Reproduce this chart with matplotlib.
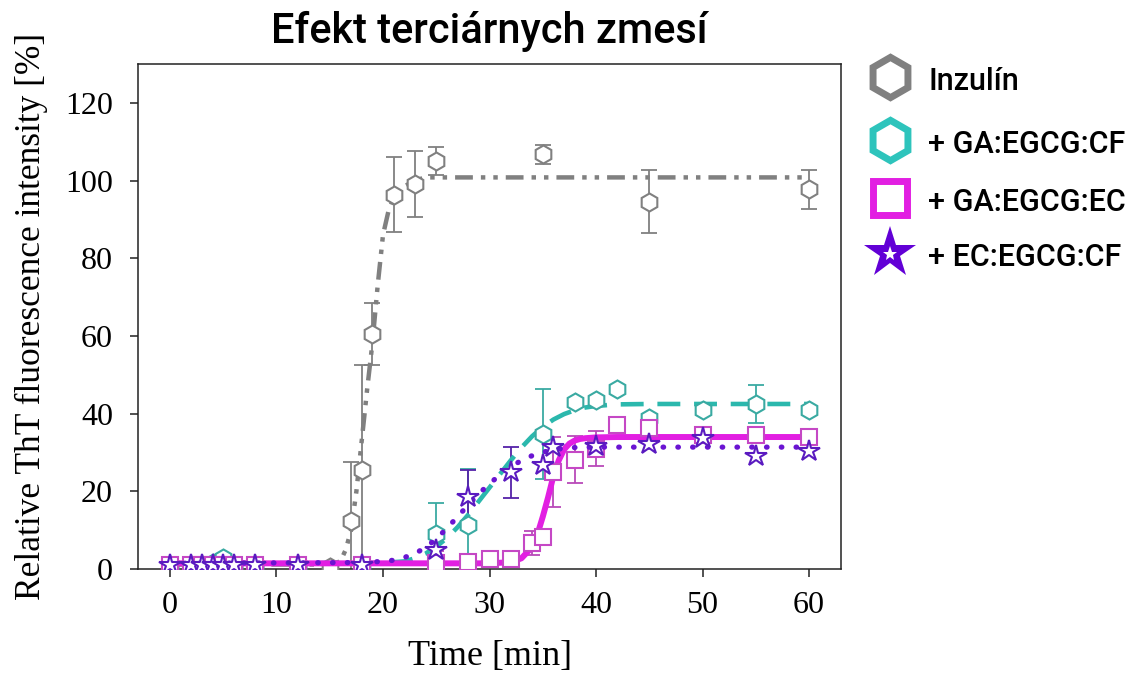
import numpy as np
import matplotlib.pyplot as plt
from matplotlib.lines import Line2D

# --- measured points (time in min, relative ThT intensity in %) ---
ins_t = [0, 2, 3, 4, 5, 6, 8, 12, 15, 17, 18, 19, 21, 23, 25, 35, 45, 60]
ins_v = [1, 1, 1, 1, 1, 1, 1, 1, 0.5, 12.5, 25.5, 60.5, 96.4, 99, 104.9, 106.7, 94.6, 97.7]
ins_e = [0, 0, 0, 0, 0, 0, 0, 0, 0, 15, 27, 8, 9.6, 8.5, 3.6, 2.5, 8, 5]

cf_t = [0, 2, 3, 4, 5, 6, 8, 12, 18, 25, 28, 35, 38, 40, 42, 45, 50, 55, 60]
cf_v = [1, 1, 1, 1.5, 3, 1, 1, 1, 1, 9, 11.3, 34.8, 42.9, 43.6, 46.4, 39, 41, 42.5, 41]
cf_e = [0, 0, 0, 0, 0, 0, 0, 0, 0, 8, 14.5, 11.5, 0, 0, 0, 0, 0, 5, 0]

ec_t = [0, 2, 3, 4, 5, 6, 8, 12, 18, 25, 28, 30, 32, 34, 35, 36, 38, 40, 42, 45, 50, 55, 60]
ec_v = [1, 1, 1, 1, 1, 1, 1, 1, 1, 1.6, 1.8, 2.5, 2.5, 6.7, 8.2, 25, 28.2, 31, 37.2, 36.2, 34.6, 34.4, 34.1]
ec_e = [0, 0, 0, 0, 0, 0, 0, 0, 0, 3, 0, 0, 0, 3, 0, 9, 6, 4.5, 0, 0, 0, 0, 0]

eccf_t = [0, 2, 3, 4, 5, 6, 8, 12, 18, 25, 28, 32, 35, 36, 40, 45, 50, 55, 60]
eccf_v = [1, 1, 1, 1, 1, 1, 1, 1, 1, 5, 18.5, 24.9, 26.7, 31.5, 31.8, 32.3, 33.8, 29.2, 30.5]
eccf_e = [0, 0, 0, 0, 0, 0, 0, 0, 0, 0, 7, 6.5, 0, 0, 0, 0, 0, 0, 0]

# --- fitted curves ---
ins_fit_t = [0, 15, 16, 16.5, 17, 17.5, 18, 18.5, 19, 19.5, 20, 20.5, 21, 22, 23, 24, 60]
ins_fit_v = [1.2, 1.2, 2, 5, 10, 20, 33, 46, 58, 73, 86, 92, 95.5, 98.5, 100, 100.8, 100.8]

cf_fit_t = [0, 20, 22, 23, 24, 25, 26, 27, 28, 29, 30, 31, 32, 33, 34, 35, 36, 37, 38, 39, 40, 42, 45, 60]
cf_fit_v = [1.5, 1.6, 2, 2.8, 4, 5.8, 8, 10.8, 14, 17.5, 21, 24.5, 28, 31.3, 34.2, 36.6, 38.5, 39.9,
            40.9, 41.6, 42, 42.4, 42.5, 42.5]

ec_fit_t = [0, 30, 32, 33, 34, 34.5, 35, 35.5, 36, 36.5, 37, 37.5, 38, 38.5, 39, 40, 42, 60]
ec_fit_v = [1.5, 1.5, 1.8, 2.8, 5.7, 9, 13.5, 18.5, 24, 28, 30.8, 32.3, 33.1, 33.5, 33.7, 33.9, 34, 34]

eccf_fit_t = [0, 18, 20, 21, 22, 23, 24, 25, 26, 27, 28, 29, 30, 31, 32, 33, 34, 35, 36, 37, 38, 40, 60]
eccf_fit_v = [1.5, 1.7, 2, 2.3, 3, 4, 5.6, 7.8, 10.5, 13.5, 16.5, 19.4, 22, 24.3, 26.3, 28, 29.2, 30.1,
              30.7, 31.1, 31.3, 31.4, 31.4]

labels = ['Inzulín', '+ GA:EGCG:CF', '+ GA:EGCG:EC', '+ EC:EGCG:CF']

GRAY = '#808080'
TEAL = '#2bb8ad'
MAGENTA = '#e21fe2'
PURPLE = '#6a14d2'

fig = plt.figure(figsize=(11.35, 6.8), dpi=100)
ax = fig.add_axes([0.1216, 0.163, 0.6194, 0.743])

serif = 'Liberation Serif'
sans = 'Roboto'


def draw_errors(t, v, e, color):
    t, v, e = np.array(t), np.array(v), np.array(e)
    m = e > 0
    ax.errorbar(t[m], v[m], yerr=e[m], fmt='none', ecolor=color, elinewidth=1.3,
                capsize=6, capthick=1.3, zorder=2)


# Inzulín
ax.plot(ins_fit_t, ins_fit_v, color=GRAY, lw=3.2, dashes=(4, 1.8, 1, 1.8, 1, 1.8), zorder=3)
draw_errors(ins_t, ins_v, ins_e, GRAY)
ax.plot(ins_t, ins_v, 'h', ms=13, mfc='white', mec=GRAY, mew=1.5, zorder=4)

# + GA:EGCG:CF
ax.plot(cf_fit_t, cf_fit_v, color=TEAL, lw=3.3, dashes=(5, 3), zorder=5)
draw_errors(cf_t, cf_v, cf_e, '#3aaaa2')
ax.plot(cf_t, cf_v, 'h', ms=13, mfc='white', mec='#3aaaa2', mew=1.5, zorder=6)

# + GA:EGCG:EC
ax.plot(ec_fit_t, ec_fit_v, color=MAGENTA, lw=4.3, solid_capstyle='butt', zorder=7)
draw_errors(ec_t, ec_v, ec_e, '#b94ab9')
ax.plot(ec_t, ec_v, 's', ms=11, mfc='white', mec='#c548c5', mew=1.5, zorder=8)

# + EC:EGCG:CF
ax.plot(eccf_fit_t, eccf_fit_v, color=PURPLE, lw=3.8, dashes=(0.1, 2.7),
        dash_capstyle='round', zorder=9)
draw_errors(eccf_t, eccf_v, eccf_e, '#5522a8')
ax.plot(eccf_t, eccf_v, '*', ms=16, mfc='white', mec='#5a1ac0', mew=1.5, zorder=10)

ax.set_xlim(-3, 63)
ax.set_ylim(0, 130)
ax.set_xticks(np.arange(0, 61, 10))
ax.set_yticks(np.arange(0, 121, 20))
ax.tick_params(direction='out', length=6, width=1.1, color='#222222')
ax.tick_params(axis='y', pad=12)
ax.tick_params(axis='x', pad=10)
for lab in ax.get_xticklabels() + ax.get_yticklabels():
    lab.set_fontfamily(serif)
    lab.set_fontsize(23)
for sp in ax.spines.values():
    sp.set_linewidth(1.1)
    sp.set_color('#222222')

ax.set_xlabel('Time [min]', fontfamily=serif, fontsize=26, labelpad=14)
ax.set_ylabel('Relative ThT fluorescence intensity [%]', fontfamily=serif, fontsize=25.5, labelpad=12)
ax.set_title('Efekt terciárnych zmesí', fontfamily=sans, fontsize=30, fontweight='medium', pad=15)

# legend drawn by hand outside the axes
leg_x = 0.784
leg_y = [1 - 77 / 680, 1 - 140 / 680, 1 - 198 / 680, 1 - 253 / 680]
leg_style = [
    dict(marker='h', ms=29, mfc='white', mec=GRAY, mew=5),
    dict(marker='h', ms=29, mfc='white', mec='#2ec4bc', mew=5),
    dict(marker='s', ms=24, mfc='white', mec=MAGENTA, mew=5),
    dict(marker='*', ms=39, mfc='#6200d6', mec='#6200d6', mew=0),
]
for y, st, lab in zip(leg_y, leg_style, labels):
    fig.add_artist(Line2D([leg_x], [y], transform=fig.transFigure, linestyle='none', **st))
    fig.text(0.818, y - 0.006, lab, fontfamily=sans, fontsize=22, fontweight='medium',
             va='center', ha='left')
# small white star in the middle of the legend star
fig.add_artist(Line2D([leg_x], [leg_y[3] - 0.002], transform=fig.transFigure, linestyle='none',
                      marker='*', ms=11, mfc='white', mew=0))

fig.savefig('out.png', dpi=100)
